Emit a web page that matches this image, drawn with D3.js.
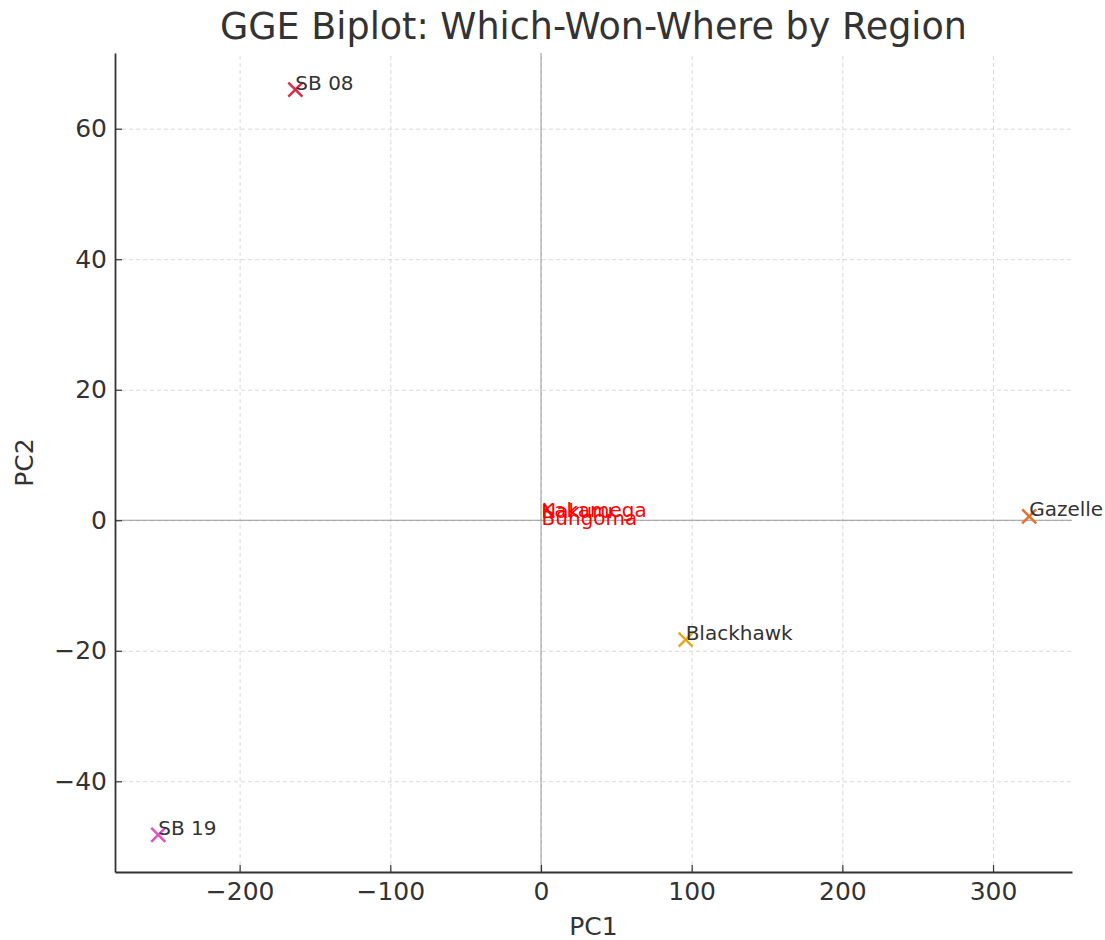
<!DOCTYPE html>
<html>
<head>
<meta charset="utf-8">
<script src="https://cdn.jsdelivr.net/npm/d3@7"></script>
<style>
    body { margin: 0; background: #fff; }
    svg text { font-family: 'DejaVu Sans', sans-serif; fill: #333; }
    .grid line { stroke: #d9d9d9; stroke-dasharray: 4,3; }
    .grid .domain { display: none; }
</style>
</head>
<body>
<div class="chart"></div>
<script>
// genotype scores
const genotypes = ['SB 08', 'SB 19', 'Blackhawk', 'Gazelle'];
const genoPC1 = [-163, -254, 96, 324];
const genoPC2 = [66, -48.2, -18.3, 0.6];
const genoColors = ['#e0294a', '#e64fc0', '#e8a81c', '#e8702a'];

// environment scores (they sit almost on the origin, labels overlap as in the original)
const environments = ['Kakamega', 'Nakuru', 'Bungoma'];
const envPC1 = [0.3, 0.2, 0.4];
const envPC2 = [0.5, 0.4, -0.8];

const xTicks = [-200, -100, 0, 100, 200, 300];
const yTicks = [-40, -20, 0, 20, 40, 60];

const margin = { top: 53, right: 33, bottom: 68, left: 115 };
const width = 1105 - margin.left - margin.right;
const height = 940 - margin.top - margin.bottom;

const svg = d3.select('.chart')
    .append('svg')
    .attr('width', 1105)
    .attr('height', 940);

const g = svg.append('g')
    .attr('transform', `translate(${margin.left},${margin.top})`);

const x = d3.scaleLinear().domain([-282.7, 352.4]).range([0, width]);
const y = d3.scaleLinear().domain([-53.9, 71.6]).range([height, 0]);

// grid
g.append('g')
    .attr('class', 'grid')
    .attr('transform', `translate(0,${height})`)
    .call(d3.axisBottom(x).tickValues(xTicks).tickSize(-height).tickFormat(''));
g.append('g')
    .attr('class', 'grid')
    .call(d3.axisLeft(y).tickValues(yTicks).tickSize(-width).tickFormat(''));

// zero lines
g.append('line')
    .attr('x1', 0).attr('x2', width)
    .attr('y1', y(0)).attr('y2', y(0))
    .style('stroke', '#999').style('stroke-width', 1);
g.append('line')
    .attr('x1', x(0)).attr('x2', x(0))
    .attr('y1', 0).attr('y2', height)
    .style('stroke', '#999').style('stroke-width', 1);

// axes (ticks point inward)
const fmt = (d) => (d < 0 ? '\u2212' + Math.abs(d) : String(d));
const xAxis = g.append('g')
    .attr('transform', `translate(0,${height})`)
    .call(d3.axisBottom(x).tickValues(xTicks).tickSizeOuter(0).tickSizeInner(-7).tickPadding(10).tickFormat(fmt));
const yAxis = g.append('g')
    .call(d3.axisLeft(y).tickValues(yTicks).tickSizeOuter(0).tickSizeInner(-7).tickPadding(8).tickFormat(fmt));
[xAxis, yAxis].forEach((a) => {
    a.select('.domain').style('stroke', '#333').style('stroke-width', 1.8);
    a.selectAll('.tick line').style('stroke', '#333').style('stroke-width', 1.2);
    a.selectAll('.tick text').style('font-size', '25px').style('fill', '#333');
});

// genotype markers
const cross = d3.symbol().type(d3.symbolX).size(130);
genotypes.forEach((name, i) => {
    g.append('path')
        .attr('d', cross())
        .attr('transform', `translate(${x(genoPC1[i])},${y(genoPC2[i])})`)
        .style('fill', 'none')
        .style('stroke', genoColors[i])
        .style('stroke-width', 2.5);
    g.append('text')
        .attr('x', x(genoPC1[i]))
        .attr('y', y(genoPC2[i]))
        .style('font-size', '20px')
        .text(name);
});

// environment labels
environments.forEach((name, i) => {
    g.append('text')
        .attr('x', x(envPC1[i]))
        .attr('y', y(envPC2[i]))
        .style('font-size', '20px')
        .style('fill', 'red')
        .text(name);
});

// titles
svg.append('text')
    .attr('x', margin.left + width / 2)
    .attr('y', 39)
    .attr('text-anchor', 'middle')
    .style('font-size', '36.5px')
    .text('GGE Biplot: Which-Won-Where by Region');
svg.append('text')
    .attr('x', margin.left + width / 2)
    .attr('y', 935)
    .attr('text-anchor', 'middle')
    .style('font-size', '25px')
    .text('PC1');
svg.append('text')
    .attr('transform', `translate(33,${margin.top + height / 2}) rotate(-90)`)
    .attr('text-anchor', 'middle')
    .style('font-size', '25px')
    .text('PC2');
</script>
</body>
</html>
